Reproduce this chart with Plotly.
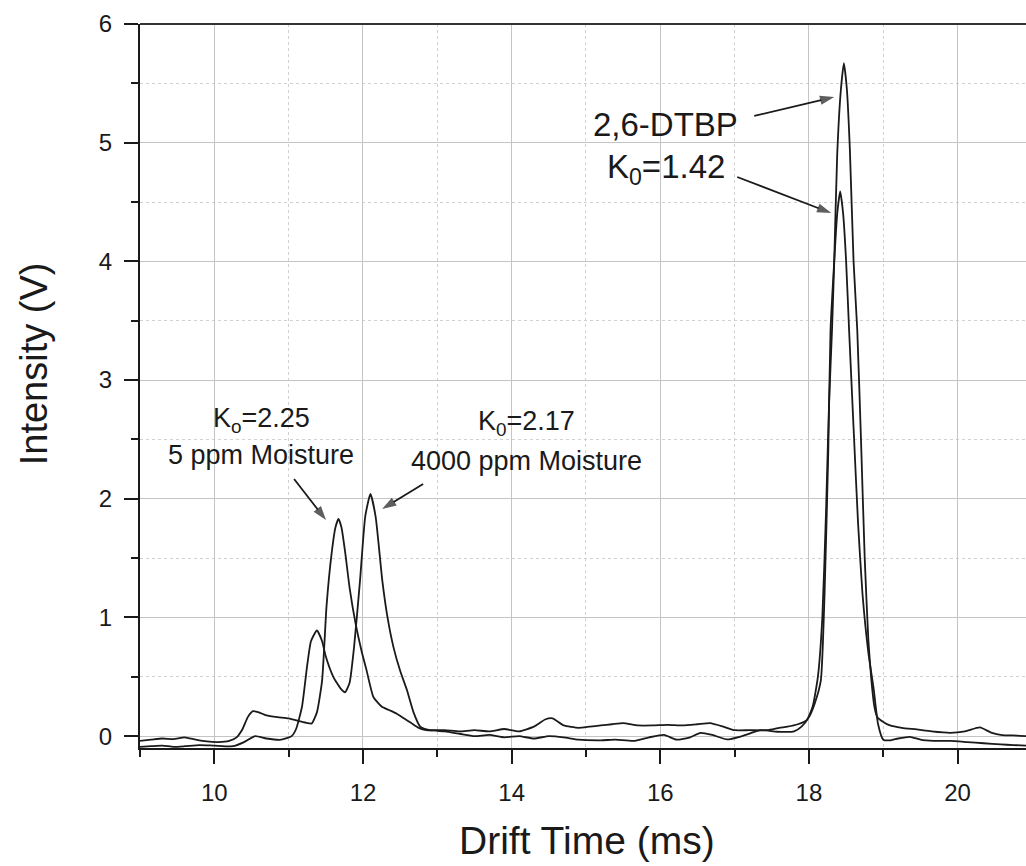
import plotly.graph_objects as go

# ---- data ----
t_5ppm = [9.0, 9.15, 9.3, 9.45, 9.6, 9.75, 9.9, 10.05, 10.2, 10.3, 10.38, 10.45, 10.52, 10.6, 10.7,
          10.85, 11.0, 11.15, 11.25, 11.31, 11.38, 11.45, 11.51, 11.58, 11.63, 11.67, 11.71, 11.76,
          11.82, 11.9, 11.98, 12.05, 12.14, 12.25, 12.35, 12.45, 12.55, 12.65, 12.75, 12.85, 12.95,
          13.1, 13.3, 13.5, 13.7, 13.9, 14.1, 14.3, 14.45, 14.55, 14.7, 14.9, 15.05, 15.2, 15.35,
          15.5, 15.7, 15.9, 16.1, 16.3, 16.5, 16.67, 16.85, 17.0, 17.2, 17.44, 17.6, 17.71, 17.85,
          17.97, 18.05, 18.12, 18.18, 18.23, 18.27, 18.31, 18.34, 18.38, 18.43, 18.47, 18.51, 18.55,
          18.6, 18.65, 18.7, 18.75, 18.8, 18.84, 18.88, 18.92, 19.0, 19.09, 19.25, 19.45, 19.65,
          19.9, 20.1, 20.3, 20.45, 20.6, 20.8, 20.92]
v_5ppm = [-0.04, -0.03, -0.02, -0.025, -0.01, -0.03, -0.045, -0.05, -0.04, -0.01, 0.06, 0.16, 0.21,
          0.2, 0.175, 0.16, 0.15, 0.125, 0.11, 0.107, 0.2, 0.47, 1.1, 1.55, 1.76, 1.83, 1.76, 1.55,
          1.25, 0.95, 0.72, 0.55, 0.33, 0.25, 0.22, 0.19, 0.15, 0.11, 0.07, 0.05, 0.05,
          0.05, 0.04, 0.05, 0.04, 0.06, 0.04, 0.08, 0.14, 0.15, 0.09, 0.07, 0.08, 0.09, 0.1,
          0.11, 0.09, 0.09, 0.095, 0.09, 0.1, 0.11, 0.08, 0.05, 0.05, 0.05, 0.07, 0.08, 0.1,
          0.135, 0.25, 0.5, 1.0, 1.9, 2.8, 3.42, 4.0, 4.9, 5.45, 5.67, 5.45, 4.95,
          4.0, 3.42, 2.5, 1.5, 0.8, 0.47, 0.25, 0.16, 0.12, 0.09, 0.07, 0.056, 0.04,
          0.028, 0.04, 0.073, 0.03, 0.009, 0.005, 0.0]

t_4000ppm = [9.0, 9.15, 9.3, 9.45, 9.6, 9.8, 10.0, 10.25, 10.4, 10.55, 10.7, 10.9, 11.04, 11.1,
             11.18, 11.25, 11.3, 11.38, 11.45, 11.5, 11.6, 11.7, 11.76, 11.82, 11.88, 11.96, 12.03,
             12.1, 12.17, 12.26, 12.33, 12.41, 12.5, 12.59, 12.68, 12.77, 12.9, 13.1, 13.3, 13.5,
             13.7, 13.9, 14.1, 14.3, 14.5, 14.7, 14.9, 15.2, 15.4, 15.64, 15.85, 16.05, 16.22, 16.4,
             16.54, 16.7, 16.9, 17.1, 17.35, 17.57, 17.8, 17.9, 18.0, 18.08, 18.16, 18.21, 18.26,
             18.29, 18.34, 18.38, 18.42, 18.46, 18.5, 18.54, 18.6, 18.66, 18.72, 18.8, 18.87, 18.93,
             19.0, 19.1, 19.2, 19.36, 19.5, 19.68, 19.9, 20.13, 20.35, 20.58, 20.75, 20.92]
v_4000ppm = [-0.09, -0.085, -0.08, -0.09, -0.085, -0.075, -0.08, -0.085, -0.05, 0.0, -0.02, -0.03,
             0.0, 0.06, 0.25, 0.6, 0.8, 0.89, 0.8, 0.67, 0.5, 0.4, 0.37, 0.45, 0.75, 1.31, 1.85,
             2.04, 1.85, 1.31, 1.0, 0.75, 0.55, 0.39, 0.2, 0.08, 0.05, 0.04, 0.02, 0.0,
             0.01, -0.01, 0.0, -0.02, 0.0, -0.01, -0.03, -0.035, -0.03, -0.04, -0.01, 0.01, -0.03, -0.01,
             0.028, 0.01, -0.028, 0.0, 0.05, 0.037, 0.04, 0.08, 0.16, 0.28, 0.47, 1.2, 2.4,
             3.42, 4.0, 4.4, 4.59, 4.4, 4.0, 3.42, 2.6, 1.8, 1.2, 0.7, 0.4, 0.1,
             -0.03, -0.035, -0.02, -0.006, -0.03, -0.04, -0.04, -0.05, -0.06, -0.07, -0.075, -0.08]

x_ticks = [10, 12, 14, 16, 18, 20]
y_ticks = [0, 1, 2, 3, 4, 5, 6]

# annotation arrows: (tail x, tail y, tip x, tip y) in data units
arrow_dtbp_hi = (17.264, 5.225, 18.34, 5.385)
arrow_dtbp_lo = (17.035, 4.711, 18.30, 4.407)
arrow_5ppm = (11.073, 2.166, 11.503, 1.820)
arrow_4000ppm = (12.809, 2.124, 12.257, 1.913)

FONT = "Liberation Sans, Arial, sans-serif"
INK = "#1a1a1a"

fig = go.Figure()
for xs, ys, name in [(t_5ppm, v_5ppm, "5 ppm Moisture"), (t_4000ppm, v_4000ppm, "4000 ppm Moisture")]:
    fig.add_trace(go.Scatter(x=xs, y=ys, mode="lines", name=name, hoverinfo="skip",
                             line=dict(color=INK, width=1.8, shape="spline", smoothing=0.5)))

for (x0, y0, x1, y1) in [arrow_dtbp_hi, arrow_dtbp_lo, arrow_5ppm, arrow_4000ppm]:
    fig.add_trace(go.Scatter(x=[x0, x1], y=[y0, y1], mode="lines+markers", hoverinfo="skip",
                             line=dict(color=INK, width=1.8),
                             marker=dict(symbol="arrow", angleref="previous", size=[0, 15],
                                         color=INK, line=dict(width=0))))

axis_common = dict(
    showline=True, linecolor=INK, linewidth=2,
    ticks="outside", ticklen=14, tickwidth=2, tickcolor=INK,
    showgrid=True, gridcolor="#c4c4c4", gridwidth=1,
    zeroline=False,
    tickfont=dict(family=FONT, size=24, color=INK),
)

fig.update_xaxes(range=[9, 20.92], tickvals=x_ticks, ticklabelstandoff=8,
                 minor=dict(dtick=1, tick0=9, ticks="outside", ticklen=7, tickwidth=2, tickcolor=INK,
                            showgrid=True, gridcolor="#d0d0d0", griddash="dot", gridwidth=1),
                 **axis_common)
fig.update_yaxes(range=[-0.1, 6], tickvals=y_ticks, ticklabelstandoff=7,
                 minor=dict(dtick=0.5, tick0=0, ticks="outside", ticklen=7, tickwidth=2, tickcolor=INK,
                            showgrid=True, gridcolor="#d0d0d0", griddash="dot", gridwidth=1),
                 **axis_common)

# top frame line
fig.add_shape(type="line", xref="paper", yref="paper", x0=0, x1=1, y0=1, y1=1,
              line=dict(color="#333333", width=2))

ann = []
def txt(x, y, s, size):
    ann.append(dict(x=x, y=y, xref="x", yref="y", text=s, showarrow=False,
                    font=dict(family=FONT, size=size, color=INK), xanchor="center", yanchor="middle"))

txt(10.63, 2.66, "K<sub>o</sub>=2.25", 27)
txt(10.63, 2.37, "5 ppm Moisture", 27)
txt(14.2, 2.64, "K<sub>0</sub>=2.17", 27)
txt(14.2, 2.32, "4000 ppm Moisture", 27)
txt(16.07, 5.15, "2,6-DTBP", 33)
txt(16.07, 4.78, "K<sub>0</sub>=1.42", 33)

# axis titles
ann.append(dict(x=-0.1196, y=0.53, xref="paper", yref="paper", text="Intensity (V)", textangle=-90,
                showarrow=False, font=dict(family=FONT, size=38, color=INK),
                xanchor="center", yanchor="middle"))
ann.append(dict(x=0.505, y=-0.128, xref="paper", yref="paper", text="Drift Time (ms)",
                showarrow=False, font=dict(family=FONT, size=39, color=INK),
                xanchor="center", yanchor="middle"))

fig.update_layout(
    width=1026, height=866,
    margin=dict(l=140, r=0, t=24, b=118),
    paper_bgcolor="white", plot_bgcolor="white",
    showlegend=False,
    annotations=ann,
)

fig.write_html("out.html")
